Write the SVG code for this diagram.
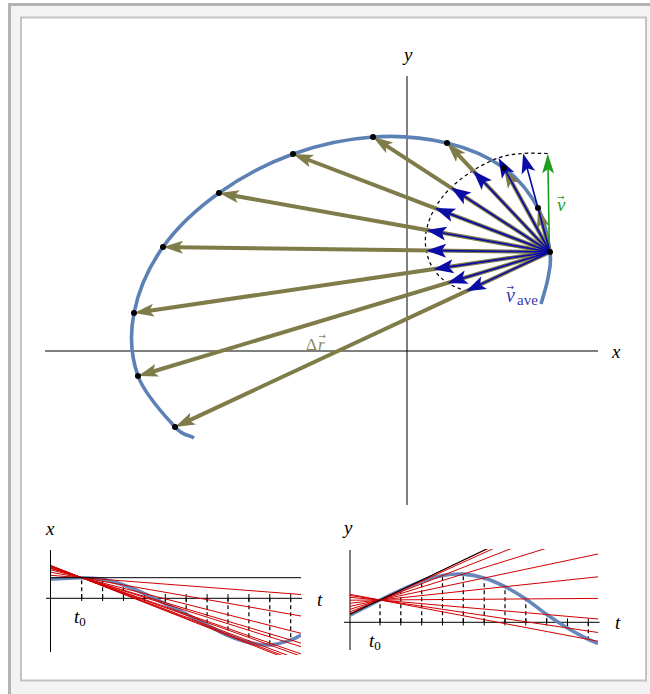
<svg xmlns="http://www.w3.org/2000/svg" width="650" height="694" viewBox="0 0 650 694">
<style>
.ax{stroke:#000;stroke-width:1;fill:none}
.ell{stroke:#5e81b5;stroke-width:3.6;fill:none;stroke-linecap:butt}
.ol{stroke:#7f7c4a;stroke-width:4;fill:none}
.bl{stroke:#0b0ba5;stroke-width:1.7;fill:none}
.gr{stroke:#1e9e1e;stroke-width:1.6;fill:none}
.dsh{stroke:#000;stroke-width:1.2;fill:none;stroke-dasharray:3.5 3}
.vd{stroke:#000;stroke-width:1.2;fill:none;stroke-dasharray:4 3}
.tk{stroke:#000;stroke-width:1}
.red{stroke:#d00000;stroke-width:1;fill:none}
.tan{stroke:#000;stroke-width:1;fill:none}
.crv{stroke:#5e81b5;stroke-width:3.6;fill:none;opacity:0.95}
.lab{font-family:"Liberation Serif","Times New Roman",serif;font-style:italic;font-size:19px;fill:#000}
.up{font-family:"Liberation Serif","Times New Roman",serif;font-style:normal}
.acc{font-family:"DejaVu Sans",sans-serif;font-style:normal;font-size:9px}
</style>
<defs>
<marker id="hol" markerUnits="userSpaceOnUse" orient="auto" overflow="visible" markerWidth="1" markerHeight="1"><path d="M14,0 L-6,-6.5 L-1.5,0 L-6,6.5 Z" fill="#7f7c4a"/></marker>
<marker id="hbl" markerUnits="userSpaceOnUse" orient="auto" overflow="visible" markerWidth="1" markerHeight="1"><path d="M14,0 L-6,-7 L-1.5,0 L-6,7 Z" fill="#0b0ba5"/></marker>
<marker id="hgr" markerUnits="userSpaceOnUse" orient="auto" overflow="visible" markerWidth="1" markerHeight="1"><path d="M14,0 L-6,-6 L-1.5,0 L-6,6 Z" fill="#1e9e1e"/></marker>
<clipPath id="cx"><rect x="51" y="545" width="250" height="110"/></clipPath>
<clipPath id="cy"><rect x="350" y="549" width="248" height="101"/></clipPath>
</defs>
<rect x="0" y="0" width="650" height="694" fill="#fff"/>
<rect x="9.5" y="4.5" width="700" height="700" fill="#f3f3f3" stroke="#b3b3b3" stroke-width="3"/>
<rect x="21" y="17.5" width="625" height="663" fill="#fff" stroke="#c3c3c3" stroke-width="2"/>

<g id="main-axes">
<line class="ax" x1="407" y1="76" x2="407" y2="505"/>
<line class="ax" x1="45" y1="351" x2="598" y2="351"/>
<text class="lab" x="404" y="61">y</text>
<text class="lab" x="612" y="358">x</text>
</g>

<g id="trajectory">
<path class="ell" d="M541,304 C543.3,295.3 546.5,286.7 548,278 C549.5,269.3 551.7,263.7 550,252 C548.3,240.3 545.7,222 538,208 C530.3,194 519.2,178.8 504,168 C488.8,157.2 468.8,148.2 447,143 C425.2,137.8 398.7,135.2 373,137 C347.3,138.8 318.7,144.7 293,154 C267.3,163.3 240.7,177.5 219,193 C197.3,208.5 177.2,227 163,247 C148.8,267 138.2,291.5 134,313 C129.8,334.5 131.2,357 138,376 C144.8,395 165.8,416.8 175,427 C184.2,437.2 188,434 194,438"/>
</g>

<g id="hodograph">
<path class="dsh" d="M547.7,153.5 C539.5,153.5 531.3,152.7 523.1,153.4 C514.9,154.1 506.8,155 498.5,157.9 C490.2,160.8 481,165.7 473.1,170.6 C465.2,175.6 457.3,181.4 450.9,187.6 C444.5,193.9 439,201 434.9,208.1 C430.8,215.2 427.9,222.95 426.4,230 C425,237.05 425,243.9 426.2,250.4 C427.4,256.9 429.95,263.7 433.5,269.1 C437.05,274.5 442.1,279.2 447.5,282.9 C452.9,286.6 459.8,288.4 466,291.2"/>
</g>

<g id="label-dr">
<text font-family="'Liberation Serif','Times New Roman',serif" font-size="17" fill="#8a8763"><tspan x="306" y="350">Δ</tspan><tspan x="318" y="350" font-style="italic">r</tspan><tspan class="acc" x="318.5" y="338.5">→</tspan></text>
</g>

<g id="connectors">
<g id="delta-r">
<line class="ol" x1="550" y1="252" x2="541.7" y2="221.5" marker-end="url(#hol)"/>
<line class="ol" x1="550" y1="252" x2="510.7" y2="180.3" marker-end="url(#hol)"/>
<line class="ol" x1="550" y1="252" x2="456.6" y2="153.2" marker-end="url(#hol)"/>
<line class="ol" x1="550" y1="252" x2="384.7" y2="144.6" marker-end="url(#hol)"/>
<line class="ol" x1="550" y1="252" x2="306.1" y2="159" marker-end="url(#hol)"/>
<line class="ol" x1="550" y1="252" x2="232.8" y2="195.5" marker-end="url(#hol)"/>
<line class="ol" x1="550" y1="252" x2="177" y2="247.2" marker-end="url(#hol)"/>
<line class="ol" x1="550" y1="252" x2="147.9" y2="311" marker-end="url(#hol)"/>
<line class="ol" x1="550" y1="252" x2="151.4" y2="372" marker-end="url(#hol)"/>
<line class="ol" x1="550" y1="252" x2="187.7" y2="421.1" marker-end="url(#hol)"/>
</g>
<g id="v-inst">
<line class="gr" x1="549.4" y1="252" x2="548" y2="167.5" marker-end="url(#hgr)"/>
</g>
<g id="v-ave">
<line class="bl" x1="550" y1="252" x2="526.8" y2="166.9" marker-end="url(#hbl)"/>
<line class="bl" x1="550" y1="252" x2="505.2" y2="170.2" marker-end="url(#hbl)"/>
<line class="bl" x1="550" y1="252" x2="482.7" y2="180.8" marker-end="url(#hbl)"/>
<line class="bl" x1="550" y1="252" x2="462.6" y2="195.2" marker-end="url(#hbl)"/>
<line class="bl" x1="550" y1="252" x2="448" y2="213.1" marker-end="url(#hbl)"/>
<line class="bl" x1="550" y1="252" x2="440.2" y2="232.5" marker-end="url(#hbl)"/>
<line class="bl" x1="550" y1="252" x2="440.2" y2="250.6" marker-end="url(#hbl)"/>
<line class="bl" x1="550" y1="252" x2="447.4" y2="267.1" marker-end="url(#hbl)"/>
<line class="bl" x1="550" y1="252" x2="460.9" y2="278.9" marker-end="url(#hbl)"/>
<line class="bl" x1="550" y1="252" x2="478.7" y2="285.3" marker-end="url(#hbl)"/>
</g>
</g>

<g id="points" fill="#000">
<circle cx="550" cy="252" r="3"/>
<circle cx="538" cy="208" r="3"/>
<circle cx="504" cy="168" r="3"/>
<circle cx="447" cy="143" r="3"/>
<circle cx="373" cy="137" r="3"/>
<circle cx="293" cy="154" r="3"/>
<circle cx="219" cy="193" r="3"/>
<circle cx="163" cy="247" r="3"/>
<circle cx="134" cy="313" r="3"/>
<circle cx="138" cy="376" r="3"/>
<circle cx="175" cy="427" r="3"/>
</g>

<g id="labels-v">
<text class="lab" font-size="19" style="fill:#2aa02a"><tspan x="557" y="211">v</tspan><tspan class="acc" x="557" y="199.5">→</tspan></text>
<text class="lab" style="fill:#3535b5;font-size:20px"><tspan x="506" y="302">v</tspan><tspan class="acc" x="506.5" y="290">→</tspan><tspan class="up" x="517" y="305" font-size="15">ave</tspan></text>
</g>

<g id="plot-x">
<g class="vd">
<line x1="81.7" y1="598.3" x2="81.7" y2="577.7"/>
<line x1="102.6" y1="598.3" x2="102.6" y2="579.3"/>
<line x1="123.5" y1="598.3" x2="123.5" y2="585"/>
<line x1="144.4" y1="598.3" x2="144.4" y2="593.6"/>
<line x1="165.3" y1="598.3" x2="165.3" y2="604"/>
<line x1="186.2" y1="598.3" x2="186.2" y2="614"/>
<line x1="207.1" y1="598.3" x2="207.1" y2="625"/>
<line x1="228" y1="598.3" x2="228" y2="635.5"/>
<line x1="248.9" y1="598.3" x2="248.9" y2="642.5"/>
<line x1="269.8" y1="598.3" x2="269.8" y2="645"/>
<line x1="290.7" y1="598.3" x2="290.7" y2="640"/>
</g>
<g class="tk">
<line x1="81.7" y1="594" x2="81.7" y2="601"/>
<line x1="102.6" y1="594" x2="102.6" y2="601"/>
<line x1="123.5" y1="594" x2="123.5" y2="601"/>
<line x1="144.4" y1="594" x2="144.4" y2="601"/>
<line x1="165.3" y1="594" x2="165.3" y2="601"/>
<line x1="186.2" y1="594" x2="186.2" y2="601"/>
<line x1="207.1" y1="594" x2="207.1" y2="601"/>
<line x1="228" y1="594" x2="228" y2="601"/>
<line x1="248.9" y1="594" x2="248.9" y2="601"/>
<line x1="269.8" y1="594" x2="269.8" y2="601"/>
<line x1="290.7" y1="594" x2="290.7" y2="601"/>
</g>
<line class="ax" x1="50.5" y1="550" x2="50.5" y2="652"/>
<line class="ax" x1="46" y1="598.3" x2="302" y2="598.3"/>
<g clip-path="url(#cx)">
<path class="crv" d="M51,579 C61.2,578.6 73.1,577.65 81.7,577.7 C90.3,577.75 95.6,578.1 102.6,579.3 C109.6,580.5 116.5,582.6 123.5,585 C130.5,587.4 137.4,590.4 144.4,593.6 C151.4,596.8 158.3,600.6 165.3,604 C172.3,607.4 179.2,610.5 186.2,614 C193.2,617.5 200.1,621.4 207.1,625 C214.1,628.6 221,632.6 228,635.5 C235,638.4 241.9,640.9 248.9,642.5 C255.9,644.1 262.8,645.4 269.8,645 C276.8,644.6 285.5,641.7 290.7,640 C295.9,638.3 297.6,636.7 301,635"/>
<g class="red">
<line x1="51" y1="575.35" x2="301" y2="594.5"/>
<line x1="51" y1="572.34" x2="301" y2="616"/>
<line x1="51" y1="569.9" x2="301" y2="633.3"/>
<line x1="51" y1="568.04" x2="301" y2="646.7"/>
<line x1="51" y1="567.03" x2="301" y2="653.9"/>
<line x1="51" y1="566.12" x2="301" y2="660.4"/>
<line x1="51" y1="565.57" x2="301" y2="664.3"/>
<line x1="51" y1="565.8" x2="301" y2="662.7"/>
<line x1="51" y1="566.72" x2="301" y2="656.2"/>
<line x1="51" y1="568.55" x2="301" y2="643.1"/>
</g>
<line class="tan" x1="51" y1="577.7" x2="301" y2="577.7"/>
</g>
<text class="lab" x="46" y="535">x</text>
<text class="lab" x="317" y="606">t</text>
<text class="lab" x="74" y="623">t<tspan class="up" font-size="13" dy="3">0</tspan></text>
</g>

<g id="plot-y">
<g class="vd">
<line x1="380" y1="622.3" x2="380" y2="600"/>
<line x1="400.8" y1="622.3" x2="400.8" y2="590.1"/>
<line x1="421.7" y1="622.3" x2="421.7" y2="581.1"/>
<line x1="442.5" y1="622.3" x2="442.5" y2="575.5"/>
<line x1="463.3" y1="622.3" x2="463.3" y2="574.1"/>
<line x1="484.2" y1="622.3" x2="484.2" y2="578"/>
<line x1="505" y1="622.3" x2="505" y2="586.7"/>
<line x1="525.8" y1="622.3" x2="525.8" y2="598.9"/>
<line x1="546.7" y1="622.3" x2="546.7" y2="614.5"/>
<line x1="567.5" y1="622.3" x2="567.5" y2="628"/>
<line x1="588.3" y1="622.3" x2="588.3" y2="639.4"/>
</g>
<g class="tk">
<line x1="380" y1="618.5" x2="380" y2="625.5"/>
<line x1="400.8" y1="618.5" x2="400.8" y2="625.5"/>
<line x1="421.7" y1="618.5" x2="421.7" y2="625.5"/>
<line x1="442.5" y1="618.5" x2="442.5" y2="625.5"/>
<line x1="463.3" y1="618.5" x2="463.3" y2="625.5"/>
<line x1="484.2" y1="618.5" x2="484.2" y2="625.5"/>
<line x1="505" y1="618.5" x2="505" y2="625.5"/>
<line x1="525.8" y1="618.5" x2="525.8" y2="625.5"/>
<line x1="546.7" y1="618.5" x2="546.7" y2="625.5"/>
<line x1="567.5" y1="618.5" x2="567.5" y2="625.5"/>
<line x1="588.3" y1="618.5" x2="588.3" y2="625.5"/>
</g>
<line class="ax" x1="350" y1="550" x2="350" y2="650" stroke="#777" stroke-width="1.6"/>
<line class="ax" x1="344" y1="622.3" x2="599.5" y2="622.3"/>
<g clip-path="url(#cy)">
<path class="crv" d="M350.5,615 C360.3,610 371.6,604.15 380,600 C388.4,595.85 393.85,593.25 400.8,590.1 C407.75,586.95 414.75,583.5 421.7,581.1 C428.65,578.7 435.6,576.7 442.5,575.5 C449.4,574.3 456.35,573.7 463.3,574.1 C470.25,574.5 477.25,575.9 484.2,578 C491.15,580.1 498.05,583.2 505,586.7 C511.95,590.2 518.85,594.3 525.8,598.9 C532.75,603.5 539.75,609.65 546.7,614.5 C553.65,619.35 560.6,623.85 567.5,628 C574.4,632.15 583.2,636.8 588.3,639.4 C593.4,642 594.8,642.1 598,643.5"/>
<g class="red">
<line x1="350" y1="614.25" x2="598" y2="496.4"/>
<line x1="350" y1="613.6" x2="598" y2="501.1"/>
<line x1="350" y1="611.8" x2="598" y2="514.5"/>
<line x1="350" y1="609.3" x2="598" y2="532.2"/>
<line x1="350" y1="606.3" x2="598" y2="554"/>
<line x1="350" y1="603.2" x2="598" y2="576.8"/>
<line x1="350" y1="600.2" x2="598" y2="598.4"/>
<line x1="350" y1="597.4" x2="598" y2="619"/>
<line x1="350" y1="595.5" x2="598" y2="632.5"/>
<line x1="350" y1="594.3" x2="598" y2="641.2"/>
</g>
<line class="tan" x1="350" y1="614.4" x2="598" y2="495.4"/>
</g>
<text class="lab" x="344" y="534">y</text>
<text class="lab" x="615" y="629">t</text>
<text class="lab" x="369" y="647">t<tspan class="up" font-size="13" dy="3">0</tspan></text>
</g>
</svg>
